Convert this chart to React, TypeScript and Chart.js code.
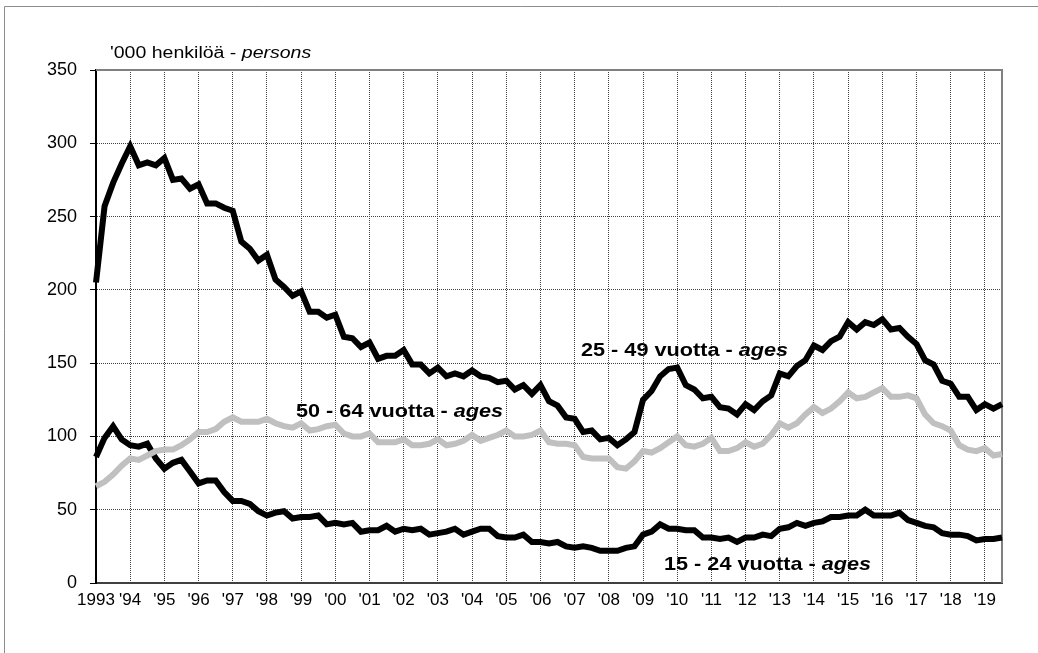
import { useEffect, useRef } from 'react';
import { Chart, registerables } from 'chart.js';
Chart.register(...registerables);

const yearTicks = ["1993", "'94", "'95", "'96", "'97", "'98", "'99", "'00", "'01", "'02", "'03", "'04", "'05", "'06", "'07", "'08", "'09", "'10", "'11", "'12", "'13", "'14", "'15", "'16", "'17", "'18", "'19"];
const quarterNames = ['Q1', 'Q2', 'Q3', 'Q4'];
const quarters: string[] = [];
for (let y = 0; y < yearTicks.length; y++) {
  for (let q = 0; q < 4; q++) quarters.push(`${1993 + y} ${quarterNames[q]}`);
}
quarters.length = 107; // 1993 Q1 .. 2019 Q3

const ages25_49 = [205, 257, 273, 286, 298, 285, 287, 285, 290, 275, 276, 269, 272, 259, 259, 256, 254, 233, 228, 220, 224, 207, 202, 196, 199, 185, 185, 181, 183, 168, 167, 161, 164, 153, 155, 155, 159, 149, 149, 143, 147, 141, 143, 141, 145, 141, 140, 137, 138, 132, 135, 129, 135, 124, 121, 113, 112, 103, 104, 98, 99, 94, 98, 103, 125, 131, 141, 146, 147, 135, 132, 126, 127, 120, 119, 115, 122, 118, 124, 128, 143, 141, 148, 152, 162, 159, 165, 168, 178, 173, 178, 176, 180, 173, 174, 168, 163, 152, 149, 138, 136, 127, 127, 118, 122, 119, 122];
const ages50_64 = [66, 69, 74, 80, 85, 84, 87, 90, 91, 91, 94, 98, 103, 103, 105, 110, 113, 110, 110, 110, 112, 109, 107, 106, 109, 104, 105, 107, 108, 102, 100, 100, 102, 96, 96, 96, 98, 94, 94, 95, 98, 94, 95, 97, 101, 97, 99, 101, 104, 100, 100, 101, 104, 96, 95, 95, 94, 86, 85, 85, 85, 79, 78, 83, 90, 89, 92, 96, 100, 94, 93, 95, 99, 90, 90, 92, 96, 93, 95, 101, 109, 106, 109, 115, 120, 116, 119, 124, 130, 126, 127, 130, 133, 127, 127, 128, 126, 115, 109, 107, 104, 94, 91, 90, 92, 87, 88];
const ages15_24 = [86, 99, 107, 98, 94, 93, 95, 85, 78, 82, 84, 76, 68, 70, 70, 62, 56, 56, 54, 49, 46, 48, 49, 44, 45, 45, 46, 40, 41, 40, 41, 35, 36, 36, 39, 35, 37, 36, 37, 33, 34, 35, 37, 33, 35, 37, 37, 32, 31, 31, 33, 28, 28, 27, 28, 25, 24, 25, 24, 22, 22, 22, 24, 25, 33, 35, 40, 37, 37, 36, 36, 31, 31, 30, 31, 28, 31, 31, 33, 32, 37, 38, 41, 39, 41, 42, 45, 45, 46, 46, 50, 46, 46, 46, 48, 43, 41, 39, 38, 34, 33, 33, 32, 29, 30, 30, 31];

const seriesNames = ['15 - 24 vuotta - ', '25 - 49 vuotta - ', '50 - 64 vuotta - '];
const seriesItalic = 'ages';
const titleMain = "'000 henkilöä - ";
const titleItalic = 'persons';

const FONT = "'Liberation Sans', Arial, Helvetica, sans-serif";

export default function App() {
  const ref = useRef<HTMLCanvasElement>(null);
  useEffect(() => {
    if (!ref.current) return;
    const bg = {
      id: 'bg',
      beforeDraw(c: any) {
        const ctx = c.ctx;
        ctx.save();
        ctx.fillStyle = '#fff';
        ctx.fillRect(0, 0, c.width, c.height);
        ctx.strokeStyle = '#8c8c8c';
        ctx.lineWidth = 1;
        ctx.beginPath();
        ctx.moveTo(4.5, c.height);
        ctx.lineTo(4.5, 6.5);
        ctx.lineTo(c.width, 6.5);
        ctx.stroke();
        ctx.restore();
      },
    };
    const frame = {
      id: 'frame',
      beforeDatasetsDraw(c: any) {
        const { ctx, chartArea: a } = c;
        ctx.save();
        ctx.strokeStyle = '#808080';
        ctx.lineWidth = 2;
        ctx.beginPath();
        ctx.moveTo(a.left, a.top);
        ctx.lineTo(a.right, a.top);
        ctx.lineTo(a.right, a.bottom);
        ctx.stroke();
        ctx.restore();
      },
    };
    const texts = {
      id: 'texts',
      afterDraw(c: any) {
        const ctx = c.ctx;
        ctx.save();
        ctx.fillStyle = '#000';
        ctx.textBaseline = 'alphabetic';
        ctx.textAlign = 'left';
        const mixed = (x: number, y: number, a: string, b: string, size: number, bold: boolean, sx: number) => {
          ctx.save();
          ctx.translate(x, y);
          ctx.scale(sx, 1);
          ctx.font = `${bold ? 'bold ' : ''}${size}px ${FONT}`;
          ctx.fillText(a, 0, 0);
          const w = ctx.measureText(a).width;
          ctx.font = `italic ${bold ? 'bold ' : ''}${size}px ${FONT}`;
          ctx.fillText(b, w, 0);
          ctx.restore();
        };
        mixed(110, 58, titleMain, titleItalic, 16, false, 1.22);
        mixed(581, 356, seriesNames[1], seriesItalic, 19, true, 1.14);
        mixed(296, 417, seriesNames[2], seriesItalic, 19, true, 1.14);
        mixed(664, 570, seriesNames[0], seriesItalic, 19, true, 1.14);
        ctx.restore();
      },
    };
    const chart = new Chart(ref.current, {
      type: 'line',
      data: {
        labels: quarters,
        datasets: [
          { label: seriesNames[2] + seriesItalic, data: ages50_64, borderColor: '#c0c0c0', borderWidth: 6, pointRadius: 0, tension: 0, order: 0 },
          { label: seriesNames[1] + seriesItalic, data: ages25_49, borderColor: '#000', borderWidth: 6, pointRadius: 0, tension: 0, order: 1 },
          { label: seriesNames[0] + seriesItalic, data: ages15_24, borderColor: '#000', borderWidth: 6, pointRadius: 0, tension: 0, order: 2 },
        ],
      },
      options: {
        responsive: true,
        maintainAspectRatio: false,
        animation: false,
        layout: { padding: { left: 0, top: 70, right: 36, bottom: 0 } },
        plugins: { legend: { display: false }, tooltip: { enabled: false }, title: { display: false } },
        scales: {
          x: {
            type: 'category',
            offset: false,
            afterFit: (s: any) => { s.height = 70; },
            grid: {
              color: (ctx: any) => (ctx.index % 4 === 0 ? '#404040' : 'rgba(0,0,0,0)'),
              lineWidth: 1,
              drawTicks: false,
            },
            border: { display: true, color: '#404040', width: 2, dash: [1, 1] },
            ticks: {
              autoSkip: false,
              maxRotation: 0,
              minRotation: 0,
              padding: 7,
              color: '#000',
              font: { family: FONT, size: 17 },
              callback: (_v: any, i: number) => (i % 4 === 0 ? yearTicks[i / 4] : ''),
            },
          },
          y: {
            min: 0,
            max: 350,
            afterFit: (s: any) => { s.width = 96; },
            grid: {
              color: '#404040',
              lineWidth: 1,
              drawTicks: true,
              tickLength: 6,
              tickColor: '#000',
              tickWidth: 1,
            },
            border: { display: true, color: '#000', width: 2, dash: [1, 1] },
            ticks: {
              stepSize: 50,
              padding: 13,
              color: '#000',
              font: { family: FONT, size: 18 },
            },
          },
        },
      },
      plugins: [bg, frame, texts],
    } as any);
    return () => chart.destroy();
  }, []);
  return (
    <div style={{ position: 'absolute', left: 0, top: 0, width: 1038, height: 653 }}>
      <canvas ref={ref} />
    </div>
  );
}
